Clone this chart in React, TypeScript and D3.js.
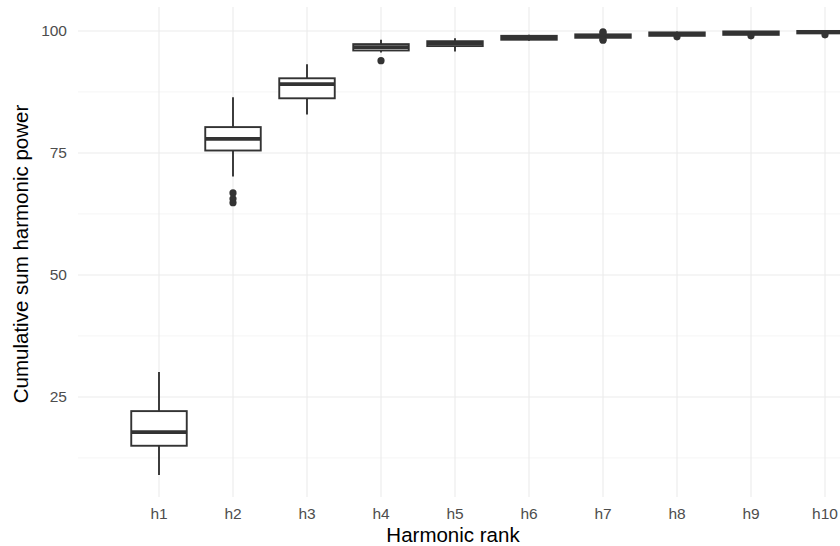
import React, { useEffect, useRef } from 'react';
import * as d3 from 'd3';

const categories = ['h1', 'h2', 'h3', 'h4', 'h5', 'h6', 'h7', 'h8', 'h9', 'h10'];
const whiskerLow = [9.0, 70.2, 82.9, 95.6, 95.8, 98.0, 98.3, 98.9, 99.1, 99.3];
const q1 = [15.0, 75.5, 86.2, 96.0, 96.9, 98.2, 98.6, 99.0, 99.2, 99.5];
const medians = [17.8, 77.9, 89.1, 96.7, 97.5, 98.6, 99.0, 99.4, 99.6, 99.8];
const q3 = [22.1, 80.3, 90.3, 97.3, 97.9, 99.0, 99.3, 99.7, 99.9, 100.0];
const whiskerHigh = [30.1, 86.4, 93.2, 98.2, 98.5, 99.2, 99.6, 99.9, 100.0, 100.0];
const outliers = [
  [],
  [66.8, 65.6, 64.8],
  [],
  [93.9],
  [],
  [],
  [99.8, 99.6, 98.3, 98.1],
  [98.8],
  [99.0],
  [99.2],
];
const yTicks = [25, 50, 75, 100];
const yMinor = [12.5, 37.5, 62.5, 87.5];

const App = () => {
  const ref = useRef<SVGSVGElement>(null);

  useEffect(() => {
    const svg = d3.select(ref.current);
    svg.selectAll('*').remove();

    const panel = { left: 78, right: 840, top: 7, bottom: 497 };

    const x = d3.scalePoint<string>()
      .domain(categories)
      .range([159, 825]);
    const step = x.step();

    const y = d3.scaleLinear()
      .domain([4.5, 104.6])
      .range([497, 8.5]);

    const font = '"Liberation Sans", Arial, sans-serif';
    const ink = '#333333';

    // grid
    const grid = svg.append('g');
    grid.selectAll('.minor')
      .data(yMinor)
      .enter().append('line')
      .attr('x1', panel.left).attr('x2', panel.right)
      .attr('y1', d => y(d)).attr('y2', d => y(d))
      .attr('stroke', '#f2f2f2').attr('stroke-width', 0.8);
    grid.selectAll('.major')
      .data(yTicks)
      .enter().append('line')
      .attr('x1', panel.left).attr('x2', panel.right)
      .attr('y1', d => y(d)).attr('y2', d => y(d))
      .attr('stroke', '#ebebeb').attr('stroke-width', 1.1);
    grid.selectAll('.vmajor')
      .data(categories)
      .enter().append('line')
      .attr('x1', d => x(d)!).attr('x2', d => x(d)!)
      .attr('y1', panel.top).attr('y2', panel.bottom)
      .attr('stroke', '#ebebeb').attr('stroke-width', 1.1);

    // boxes
    const bw = step * 0.75;
    const boxes = svg.append('g');
    categories.forEach((c, i) => {
      const cx = x(c)!;
      const g = boxes.append('g');
      g.append('line')
        .attr('x1', cx).attr('x2', cx)
        .attr('y1', y(whiskerHigh[i])).attr('y2', y(q3[i]))
        .attr('stroke', ink).attr('stroke-width', 1.9);
      g.append('line')
        .attr('x1', cx).attr('x2', cx)
        .attr('y1', y(q1[i])).attr('y2', y(whiskerLow[i]))
        .attr('stroke', ink).attr('stroke-width', 1.9);
      g.append('rect')
        .attr('x', cx - bw / 2)
        .attr('y', y(q3[i]))
        .attr('width', bw)
        .attr('height', Math.max(y(q1[i]) - y(q3[i]), 0.5))
        .attr('fill', 'white')
        .attr('stroke', ink).attr('stroke-width', 1.9);
      g.append('line')
        .attr('x1', cx - bw / 2).attr('x2', cx + bw / 2)
        .attr('y1', y(medians[i])).attr('y2', y(medians[i]))
        .attr('stroke', ink).attr('stroke-width', 3.8);
      g.selectAll('circle')
        .data(outliers[i])
        .enter().append('circle')
        .attr('cx', cx).attr('cy', d => y(d))
        .attr('r', 3.6)
        .attr('fill', ink);
    });

    // y tick labels
    svg.append('g').selectAll('text')
      .data(yTicks)
      .enter().append('text')
      .attr('x', 67).attr('y', d => y(d))
      .attr('dy', '0.35em')
      .attr('text-anchor', 'end')
      .attr('font-family', font).attr('font-size', 15.5)
      .attr('fill', '#4d4d4d')
      .text(d => d);

    // x tick labels
    svg.append('g').selectAll('text')
      .data(categories)
      .enter().append('text')
      .attr('x', d => x(d)!).attr('y', 519)
      .attr('text-anchor', 'middle')
      .attr('font-family', font).attr('font-size', 15.5)
      .attr('fill', '#4d4d4d')
      .text(d => d);

    // axis titles
    svg.append('text')
      .attr('x', 453).attr('y', 541.5)
      .attr('text-anchor', 'middle')
      .attr('font-family', font).attr('font-size', 20.5)
      .attr('fill', 'black')
      .text('Harmonic rank');

    svg.append('text')
      .attr('transform', 'translate(28,254) rotate(-90)')
      .attr('text-anchor', 'middle')
      .attr('font-family', font).attr('font-size', 20.5)
      .attr('fill', 'black')
      .text('Cumulative sum harmonic power');
  }, []);

  return (
    <svg
      ref={ref}
      width={840}
      height={546}
      style={{ position: 'absolute', left: 0, top: 0, background: 'white' }}
    />
  );
};

export default App;
